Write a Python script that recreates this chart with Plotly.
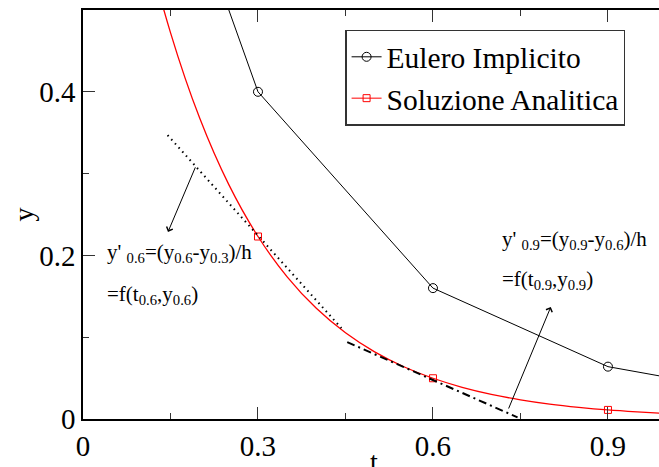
import plotly.graph_objects as go

# ---- data ----
t_euler = [0.0, 0.3, 0.6, 0.9, 1.2]
y_euler = [1.0, 0.4, 0.16, 0.064, 0.0256]

t_exact = [0.0, 0.05, 0.10, 0.15, 0.20, 0.25, 0.30, 0.35, 0.40, 0.45, 0.50,
           0.55, 0.60, 0.65, 0.70, 0.75, 0.80, 0.85, 0.90, 0.95, 1.00]
y_exact = [1.0, 0.7788, 0.6065, 0.4724, 0.3679, 0.2865, 0.2231, 0.1738, 0.1353,
           0.1054, 0.0821, 0.0639, 0.0498, 0.0388, 0.0302, 0.0235, 0.0183,
           0.0143, 0.0111, 0.0087, 0.0067]

t_marks = [0.3, 0.6, 0.9]
y_marks = [0.2231, 0.0498, 0.0111]

tan1_t = [0.145, 0.443]
tan1_y = [0.347, 0.111]
tan2_t = [0.453, 0.745]
tan2_y = [0.094, 0.002]

x_ticks = [0, 0.3, 0.6, 0.9]
x_ticklabels = ["0", "0.3", "0.6", "0.9"]
y_ticks = [0, 0.2, 0.4]
y_ticklabels = ["0", "0.2", "0.4"]

FONT = "Liberation Serif"

fig = go.Figure()

fig.add_trace(go.Scatter(x=t_exact, y=y_exact, mode="lines", line=dict(color="red", width=1.3, shape="spline"),
                         showlegend=False, hoverinfo="skip"))
fig.add_trace(go.Scatter(x=t_marks, y=y_marks, mode="markers",
                         marker=dict(symbol="square-open", size=7, color="red", line=dict(width=1)),
                         showlegend=False))
fig.add_trace(go.Scatter(x=tan1_t, y=tan1_y, mode="lines", line=dict(color="black", width=2, dash="1.5px,4px"),
                         showlegend=False))
fig.add_trace(go.Scatter(x=tan2_t, y=tan2_y, mode="lines", line=dict(color="black", width=2, dash="8px,4px,2px,4px"),
                         showlegend=False))
fig.add_trace(go.Scatter(x=t_euler, y=y_euler, mode="lines+markers", name="Eulero Implicito",
                         line=dict(color="black", width=1),
                         marker=dict(symbol="circle-open", size=9, color="black", line=dict(width=1))))
fig.add_trace(go.Scatter(x=[None], y=[None], mode="lines+markers", name="Soluzione Analitica",
                         line=dict(color="red", width=1),
                         marker=dict(symbol="square-open", size=7, color="red", line=dict(width=1))))

ann = []
# arrows
ann.append(dict(x=0.1457, y=0.2287, ax=0.1937, ay=0.3095, xref="x", yref="y", axref="x", ayref="y",
                text="", showarrow=True, arrowhead=4, arrowsize=1.3, arrowwidth=1, arrowcolor="black"))
ann.append(dict(x=0.802, y=0.137, ax=0.7286, ay=0.011, xref="x", yref="y", axref="x", ayref="y",
                text="", showarrow=True, arrowhead=4, arrowsize=1.3, arrowwidth=1, arrowcolor="black"))
lab_font = dict(family=FONT, size=21, color="black")
ann.append(dict(x=0.038, y=0.203, xref="x", yref="y", xanchor="left", yanchor="middle", showarrow=False,
                text="y' <sub>0.6</sub>=(y<sub>0.6</sub>-y<sub>0.3</sub>)/h", font=lab_font))
ann.append(dict(x=0.038, y=0.152, xref="x", yref="y", xanchor="left", yanchor="middle", showarrow=False,
                text="=f(t<sub>0.6</sub>,y<sub>0.6</sub>)", font=lab_font))
ann.append(dict(x=0.715, y=0.219, xref="x", yref="y", xanchor="left", yanchor="middle", showarrow=False,
                text="y' <sub>0.9</sub>=(y<sub>0.9</sub>-y<sub>0.6</sub>)/h", font=lab_font))
ann.append(dict(x=0.715, y=0.170, xref="x", yref="y", xanchor="left", yanchor="middle", showarrow=False,
                text="=f(t<sub>0.9</sub>,y<sub>0.9</sub>)", font=lab_font))
# axis titles
ann.append(dict(x=0.505, y=-0.06, xref="paper", yref="paper", xanchor="center", yanchor="top", showarrow=False,
                text="t", font=dict(family=FONT, size=28, color="black")))
ann.append(dict(x=-0.104, y=0.5, xref="paper", yref="paper", xanchor="center", yanchor="middle", showarrow=False,
                text="y", textangle=-90, font=dict(family=FONT, size=28, color="black")))

fig.update_layout(
    width=659, height=467,
    margin=dict(l=83, r=0, t=10, b=48),
    paper_bgcolor="white", plot_bgcolor="white",
    font=dict(family=FONT, size=29, color="black"),
    annotations=ann,
    legend=dict(x=0.455, y=0.952, xanchor="left", yanchor="top", bgcolor="white",
                bordercolor="#333", borderwidth=1.5, font=dict(family=FONT, size=29.5, color="black"),
                tracegroupgap=0, itemwidth=30),
)
fig.update_xaxes(range=[0, 0.9875], tickvals=x_ticks, ticktext=x_ticklabels, ticks="inside", ticklen=12,
                 tickwidth=1, tickcolor="#333", showline=True, linecolor="black", linewidth=1.5, mirror="ticks",
                 showgrid=False, zeroline=False,
                 minor=dict(tickvals=[0.15, 0.45, 0.75], ticks="inside", ticklen=6, tickcolor="#333", tickwidth=1),
                 tickfont=dict(family=FONT, size=29, color="black"))
fig.update_yaxes(range=[0, 0.5], tickvals=y_ticks, ticktext=y_ticklabels, ticks="inside", ticklen=12,
                 tickwidth=1, tickcolor="#333", showline=True, linecolor="black", linewidth=1.5,
                 showgrid=False, zeroline=False,
                 minor=dict(tickvals=[0.1, 0.3], ticks="inside", ticklen=6, tickcolor="#333", tickwidth=1),
                 tickfont=dict(family=FONT, size=29, color="black"))

fig.write_html("out.html")
